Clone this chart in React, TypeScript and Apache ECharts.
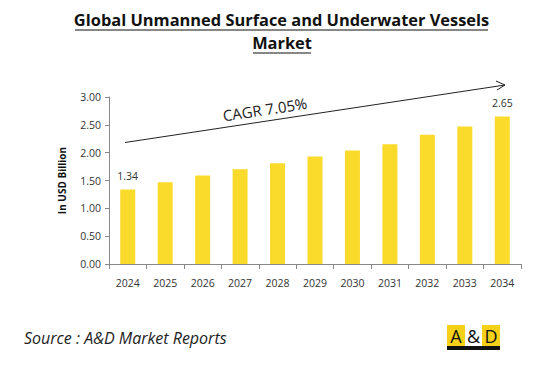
import React, { useEffect, useRef } from "react";
import * as echarts from "echarts";

const years = ["2024", "2025", "2026", "2027", "2028", "2029", "2030", "2031", "2032", "2033", "2034"];
const values = [1.34, 1.47, 1.59, 1.70, 1.81, 1.93, 2.04, 2.15, 2.32, 2.47, 2.65];
const labelledYears = ["2024", "2034"];
const titleLines = ["Global Unmanned Surface and Underwater Vessels", "Market"];
const cagrText = "CAGR 7.05%";
const sourceText = "Source : A&D Market Reports";

export default function App() {
  const ref = useRef<HTMLDivElement>(null);
  useEffect(() => {
    if (!ref.current) return;
    const chart = echarts.init(ref.current, undefined, { renderer: "svg" });
    const font = "'Open Sans', 'DejaVu Sans', sans-serif";
    chart.setOption({
      animation: false,
      backgroundColor: "#ffffff",
      grid: { left: 109, right: 29, top: 97, bottom: 109 },
      xAxis: {
        type: "category",
        data: years,
        axisLine: { lineStyle: { color: "#888888", width: 1 } },
        axisTick: { show: true, alignWithLabel: false, length: 5, lineStyle: { color: "#888888" } },
        axisLabel: { color: "#333333", fontSize: 10.5, fontFamily: font, margin: 13 },
      },
      yAxis: {
        type: "value",
        min: 0,
        max: 3,
        interval: 0.5,
        name: "In USD Billion",
        nameLocation: "middle",
        nameGap: 42,
        nameRotate: 90,
        nameTextStyle: { color: "#111111", fontSize: 10, fontWeight: "bold", fontFamily: font },
        splitLine: { show: false },
        axisLine: { show: true, lineStyle: { color: "#888888", width: 1 } },
        axisTick: { show: true, length: 4, lineStyle: { color: "#888888" } },
        axisLabel: {
          color: "#333333",
          fontSize: 10.5,
          fontFamily: font,
          margin: 8,
          formatter: (v: number) => v.toFixed(2),
        },
      },
      series: [
        {
          type: "bar",
          barWidth: "40%",
          itemStyle: { color: "#FADA2A" },
          data: values.map((v, i) => ({
            value: v,
            label: {
              show: labelledYears.includes(years[i]),
              position: "top",
              distance: 8,
              color: "#333333",
              fontSize: 10.5,
              fontFamily: font,
              formatter: (p: any) => p.value.toFixed(2),
            },
          })),
        },
      ],
      graphic: [
        {
          type: "text",
          x: 281.5,
          y: 27,
          style: {
            text: titleLines[0],
            fontSize: 16.4,
            fontWeight: "bold",
            fontFamily: font,
            fill: "#111111",
            align: "center",
            verticalAlign: "bottom",
          },
        },
        {
          type: "text",
          x: 282,
          y: 50,
          style: {
            text: titleLines[1],
            fontSize: 16.4,
            fontWeight: "bold",
            fontFamily: font,
            fill: "#111111",
            align: "center",
            verticalAlign: "bottom",
          },
        },
        { type: "line", shape: { x1: 75, y1: 30, x2: 488, y2: 30 }, style: { stroke: "#111111", lineWidth: 1.2 } },
        { type: "line", shape: { x1: 253, y1: 53, x2: 311, y2: 53 }, style: { stroke: "#111111", lineWidth: 1.2 } },
        { type: "line", shape: { x1: 125, y1: 142.5, x2: 505, y2: 85 }, style: { stroke: "#222222", lineWidth: 1 } },
        { type: "polyline", shape: { points: [[496, 81], [505, 85], [497, 90]] }, style: { stroke: "#222222", lineWidth: 1, fill: "none" } },
        {
          type: "text",
          x: 224,
          y: 123,
          rotation: (8.6 * Math.PI) / 180,
          style: { text: cagrText, fontSize: 15, fontFamily: font, fill: "#222222", textVerticalAlign: "bottom" },
        },
        {
          type: "text",
          x: 24,
          y: 330,
          style: { text: sourceText, fontSize: 16, fontStyle: "italic", fontFamily: font, fill: "#222222" },
        },
        { type: "rect", shape: { x: 447, y: 325, width: 18, height: 21 }, style: { fill: "#F7D117" } },
        { type: "rect", shape: { x: 465, y: 325, width: 17, height: 21 }, style: { fill: "#ffffff" } },
        { type: "rect", shape: { x: 482, y: 325, width: 18, height: 21 }, style: { fill: "#F7D117" } },
        { type: "rect", shape: { x: 447, y: 346, width: 53, height: 4 }, style: { fill: "#111111" } },
        { type: "text", x: 456, y: 336, style: { text: "A", fontSize: 18, fontFamily: font, fill: "#111111", align: "center", verticalAlign: "middle" } },
        { type: "text", x: 473.5, y: 336, style: { text: "&", fontSize: 18, fontFamily: font, fill: "#111111", align: "center", verticalAlign: "middle" } },
        { type: "text", x: 491, y: 336, style: { text: "D", fontSize: 18, fontFamily: font, fill: "#111111", align: "center", verticalAlign: "middle" } },
      ],
    });
    return () => chart.dispose();
  }, []);
  return <div ref={ref} style={{ width: 550, height: 373, position: "fixed", left: 0, top: 0 }} />;
}
